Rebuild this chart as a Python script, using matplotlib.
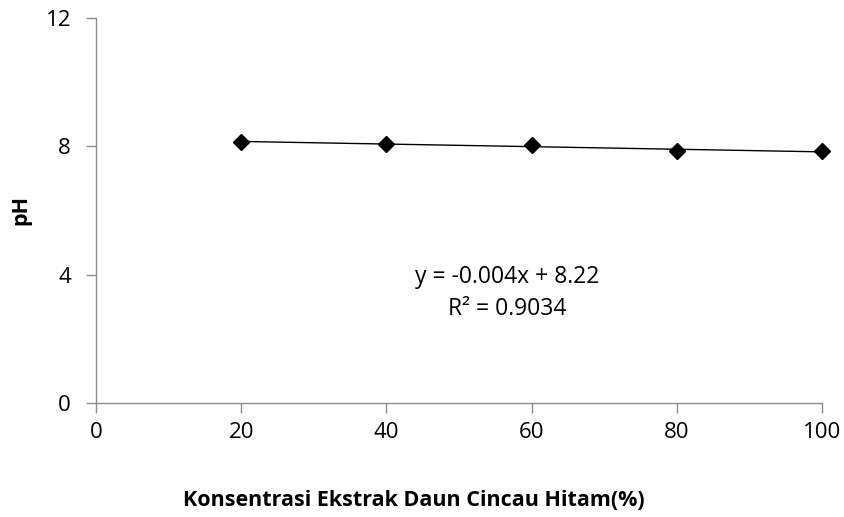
import numpy as np
import matplotlib
matplotlib.use("Agg")
import matplotlib.pyplot as plt

# konsentrasi ekstrak (%) vs pH
konsentrasi = [20, 40, 60, 80, 100]
ph = [8.14, 8.07, 8.04, 7.86, 7.84]
x_ticks = [0, 20, 40, 60, 80, 100]
y_ticks = [0, 4, 8, 12]

plt.rcParams['font.family'] = ['Open Sans', 'DejaVu Sans']

fig = plt.figure(figsize=(8.45, 5.17), dpi=100)
ax = fig.add_axes([0.1136, 0.2205, 0.859, 0.7447])

ax.plot(konsentrasi, ph, linestyle='none', marker='D', markersize=8,
        color='black', zorder=3, clip_on=False)

# garis trend linier
m, b = np.polyfit(konsentrasi, ph, 1)
xs = np.array([konsentrasi[0], konsentrasi[-1]])
ax.plot(xs, m * xs + b, color='black', linewidth=1, zorder=2)

ax.set_xlim(0, 100)
ax.set_ylim(0, 12)
ax.set_xticks(x_ticks)
ax.set_yticks(y_ticks)

for s in ['top', 'right']:
    ax.spines[s].set_visible(False)
for s in ['left', 'bottom']:
    ax.spines[s].set_color('#8c8c8c')
    ax.spines[s].set_linewidth(1)
ax.tick_params(axis='both', colors='#8c8c8c', labelcolor='black',
               labelsize=16, length=7, width=1, direction='out')
ax.tick_params(axis='x', pad=7)
ax.tick_params(axis='y', pad=11)

fig.text(21 / 845, 1 - 210 / 517, 'pH', rotation=90, ha='center', va='center',
         fontsize=15.5, fontweight='bold')
fig.text(414 / 845, 1 - 500 / 517, 'Konsentrasi Ekstrak Daun Cincau Hitam(%)',
         ha='center', va='center', fontsize=15.5, fontweight='bold')

fig.text(507 / 845, 1 - 277 / 517, 'y = -0.004x + 8.22',
         ha='center', va='center', fontsize=16.5)
fig.text(507 / 845, 1 - 309 / 517, 'R² = 0.9034',
         ha='center', va='center', fontsize=16.5)

fig.savefig('out.png', dpi=100)
